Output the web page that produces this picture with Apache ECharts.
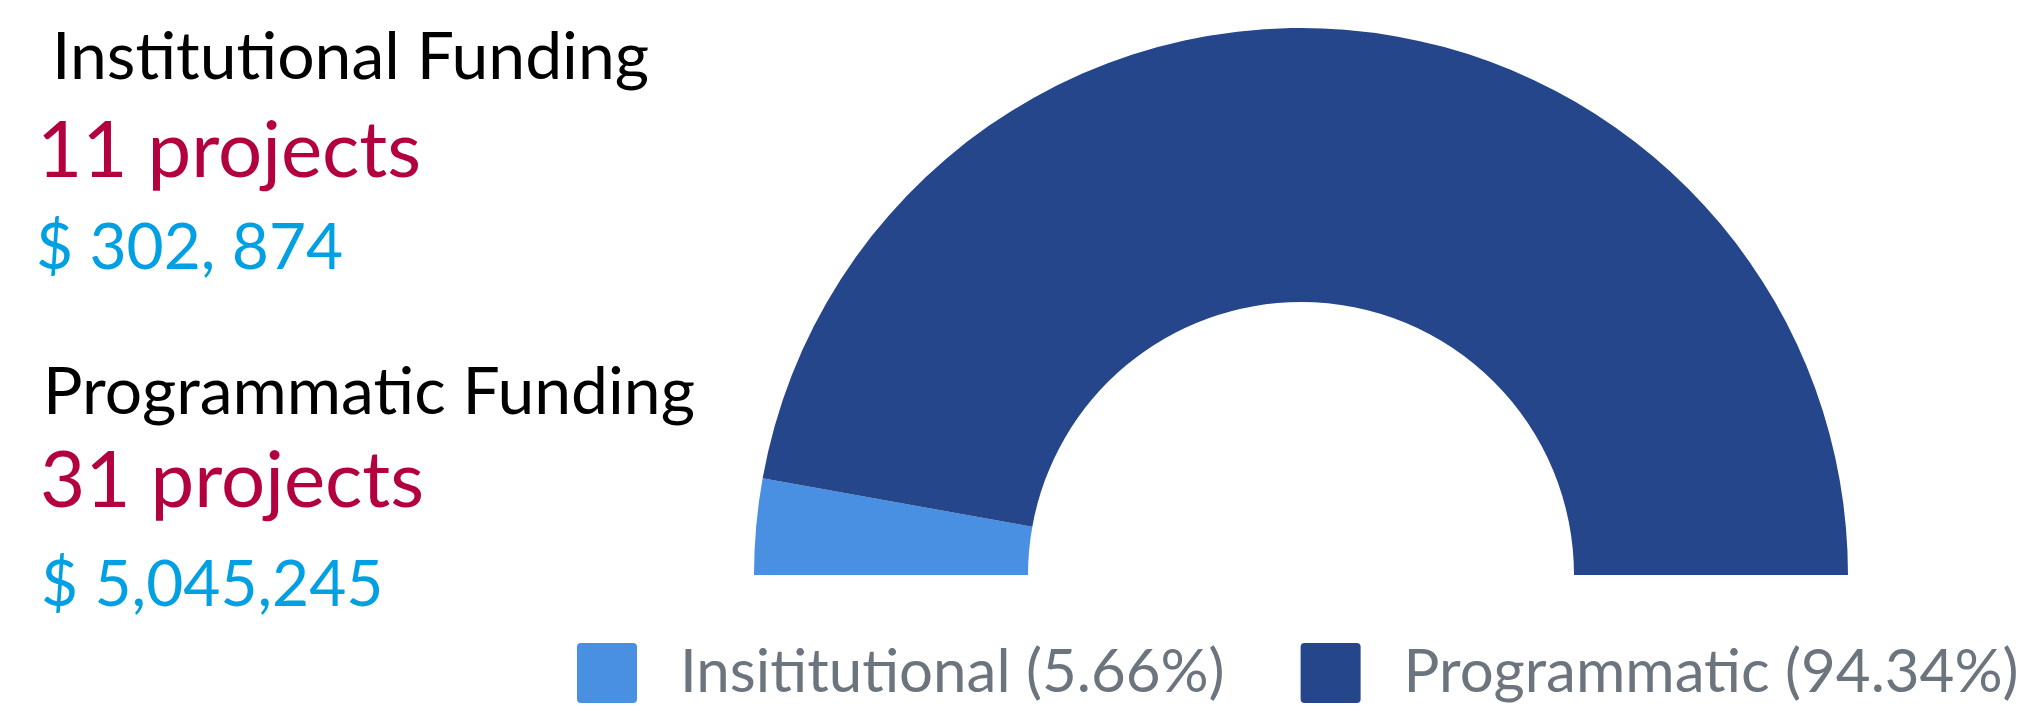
<!DOCTYPE html>
<html>
<head>
<meta charset="utf-8">
<script src="https://cdn.jsdelivr.net/npm/echarts@6/dist/echarts.min.js"></script>
<style>
  html, body { margin: 0; padding: 0; background: #fff; }
  #funding { width: 2020px; height: 711px; }
</style>
</head>
<body>
<div id="funding"></div>
<script>
var categories = ['Insititutional', 'Programmatic'];
var amounts = [302874, 5045245];
var headings = ['Institutional Funding', 'Programmatic Funding'];
var projectCounts = [11, 31];
var amountLabels = ['$ 302, 874', '$ 5,045,245'];
var colors = ['#4a90e2', '#25468a'];

var total = amounts.reduce(function (a, b) { return a + b; }, 0);
var pct = {};
categories.forEach(function (c, i) {
    pct[c] = (amounts[i] / total * 100).toFixed(2);
});

var chart = echarts.init(document.getElementById('funding'));

// left hand text blocks, one per funding type
var blockTop = [0, 335];
var texts = [];
headings.forEach(function (h, i) {
    var dy = blockTop[i];
    texts.push({
        type: 'text',
        style: { text: h, x: i === 0 ? 52 : 43, y: 58 + dy, verticalAlign: 'middle',
                 font: '66px Lato', fill: '#000' }
    });
    texts.push({
        type: 'text',
        style: { text: projectCounts[i] + ' projects', x: i === 0 ? 37 : 40, y: 151.5 + (i ? 330 : 0), verticalAlign: 'middle',
                 font: '78px Lato', fill: '#b3003e' }
    });
    texts.push({
        type: 'text',
        style: { text: amountLabels[i], x: i === 0 ? 36 : 41, y: 248 + (i ? 337 : 0), verticalAlign: 'middle',
                 font: '64px Lato', fill: '#00a0e3' }
    });
});

var option = {
    animation: false,
    color: colors,
    legend: {
        left: 577,
        top: 643,
        padding: 0,
        itemWidth: 60,
        itemHeight: 60,
        itemGap: 76,
        icon: 'path://M4,0 H56 Q60,0 60,4 V56 Q60,60 56,60 H4 Q0,60 0,56 V4 Q0,0 4,0 Z',
        data: categories,
        formatter: function (name) {
            return name + ' (' + pct[name] + '%)';
        },
        textStyle: {
            fontFamily: 'Lato',
            fontSize: 60,
            color: '#6c757d',
            padding: [0, 0, 0, 38]
        }
    },
    graphic: texts,
    series: [
        {
            type: 'pie',
            center: [1301, 575],
            radius: [273, 547],
            startAngle: 180,
            endAngle: 360,
            silent: true,
            label: { show: false },
            labelLine: { show: false },
            itemStyle: { borderWidth: 0 },
            data: categories.map(function (c, i) {
                return { name: c, value: amounts[i] };
            })
        }
    ]
};

chart.setOption(option);
</script>
</body>
</html>
